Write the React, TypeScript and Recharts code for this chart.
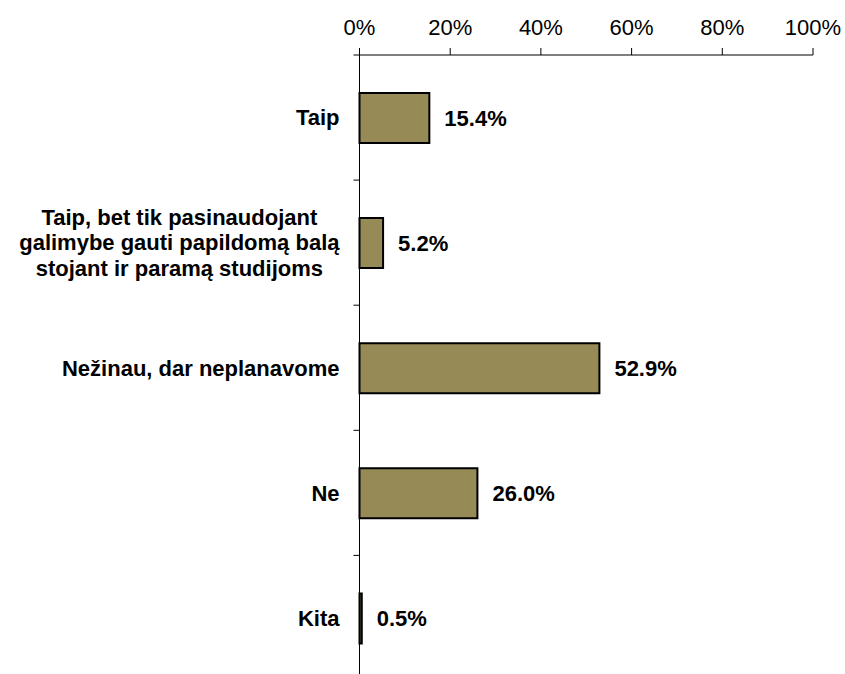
import React from 'react';
import { BarChart, Bar, XAxis, YAxis, LabelList } from 'recharts';

const categories = [
  'Taip',
  'Taip, bet tik pasinaudojant\ngalimybe gauti papildomą balą\nstojant ir paramą studijoms',
  'Nežinau, dar neplanavome',
  'Ne',
  'Kita',
];
const values = [15.4, 5.2, 52.9, 26.0, 0.5];
const xTicks = [0, 20, 40, 60, 80, 100];

const data = categories.map((c, i) => ({ name: c, value: values[i] }));

const W = 845;
const H = 690;
const X_AXIS_H = 30;
const M = { top: 55 - X_AXIS_H, right: 32, bottom: 9.5, left: 0 };
const Y_AXIS_W = 359.5;
const PLOT_H = H - 55 - M.bottom;
const BAND = PLOT_H / categories.length;
const FONT = '"Liberation Sans", Arial, sans-serif';
const CAT_SIZE = 22;
const LINE_H = 25.5;

let ctx: CanvasRenderingContext2D | null = null;
function measure(t: string) {
  if (!ctx) {
    ctx = document.createElement('canvas').getContext('2d');
    if (ctx) ctx.font = `bold ${CAT_SIZE}px "Liberation Sans"`;
  }
  return ctx ? ctx.measureText(t).width : t.length * 11;
}

function YTick(props: any) {
  const { y, payload, index } = props;
  const axisX = M.left + Y_AXIS_W;
  const right = axisX - 20;
  const lines = String(payload.value).split('\n');
  const maxW = Math.max(...lines.map(measure));
  const cx = right - maxW / 2;
  const startY = y - ((lines.length - 1) * LINE_H) / 2;
  return (
    <g>
      <text
        textAnchor="middle"
        fontFamily={FONT}
        fontWeight="bold"
        fontSize={CAT_SIZE}
        fill="#000"
      >
        {lines.map((l, i) => (
          <tspan key={i} x={cx} y={startY + i * LINE_H} dy="0.355em">
            {l}
          </tspan>
        ))}
      </text>
      {index === 0 && (
        <line x1={axisX - 6} x2={axisX} y1={y - BAND / 2} y2={y - BAND / 2} stroke="#000" strokeWidth={1} />
      )}
      <line x1={axisX - 6} x2={axisX} y1={y + BAND / 2} y2={y + BAND / 2} stroke="#000" strokeWidth={1} />
    </g>
  );
}

export default function App() {
  return (
    <div style={{ position: 'absolute', left: 0, top: 0, width: 845, height: 674, overflow: 'hidden', background: '#fff' }}>
      <BarChart width={W} height={H} data={data} layout="vertical" margin={M}>
        <XAxis
          type="number"
          orientation="top"
          height={X_AXIS_H}
          domain={[0, 100]}
          ticks={xTicks}
          tickFormatter={(v: number) => `${v}%`}
          axisLine={{ stroke: '#000' }}
          tickLine={{ stroke: '#000' }}
          tickSize={7}
          tickMargin={13}
          tick={{ fontSize: 22, fill: '#000', fontFamily: FONT }}
          interval={0}
        />
        <YAxis
          type="category"
          dataKey="name"
          width={Y_AXIS_W}
          axisLine={{ stroke: '#000' }}
          tickLine={false}
          tick={<YTick />}
          interval={0}
        />
        <Bar dataKey="value" fill="#968B57" stroke="#000" strokeWidth={2} barSize={50} isAnimationActive={false}>
          <LabelList
            dataKey="value"
            position="right"
            offset={15}
            formatter={(v: number) => `${v.toFixed(1)}%`}
            style={{ fontSize: 22, fontWeight: 'bold', fill: '#000', fontFamily: FONT }}
          />
        </Bar>
      </BarChart>
    </div>
  );
}
